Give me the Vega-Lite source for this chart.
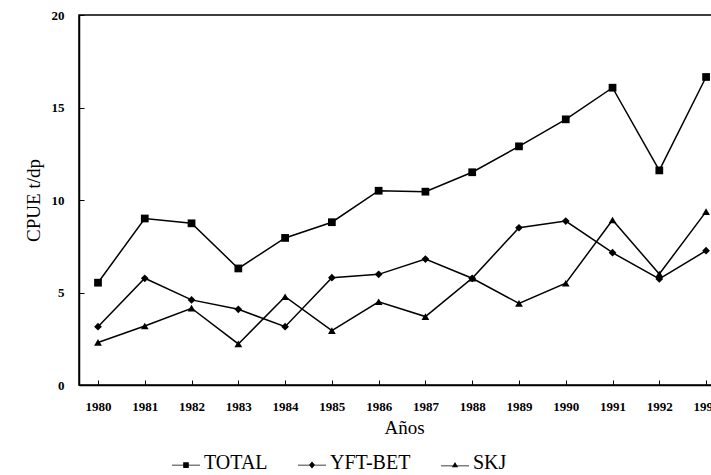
{
  "$schema": "https://vega.github.io/schema/vega-lite/v6.json",
  "width": 650,
  "height": 370,
  "autosize": "none",
  "padding": {"left": 79, "top": 15, "right": 0, "bottom": 90},
  "background": "white",
  "config": {
    "view": {"stroke": "black", "strokeWidth": 1.5},
    "font": "Liberation Serif",
    "axis": {"grid": false, "domainColor": "black", "domainWidth": 1.5, "tickColor": "black", "labelColor": "black", "titleColor": "black", "labelFont": "Liberation Serif", "titleFont": "Liberation Serif"}
  },
  "data": {
    "values": [
      {"year": 1980, "series": "TOTAL", "cpue": 5.53},
      {"year": 1981, "series": "TOTAL", "cpue": 9.0},
      {"year": 1982, "series": "TOTAL", "cpue": 8.74},
      {"year": 1983, "series": "TOTAL", "cpue": 6.3},
      {"year": 1984, "series": "TOTAL", "cpue": 7.95},
      {"year": 1985, "series": "TOTAL", "cpue": 8.8},
      {"year": 1986, "series": "TOTAL", "cpue": 10.5},
      {"year": 1987, "series": "TOTAL", "cpue": 10.45},
      {"year": 1988, "series": "TOTAL", "cpue": 11.5},
      {"year": 1989, "series": "TOTAL", "cpue": 12.9},
      {"year": 1990, "series": "TOTAL", "cpue": 14.36},
      {"year": 1991, "series": "TOTAL", "cpue": 16.07},
      {"year": 1992, "series": "TOTAL", "cpue": 11.6},
      {"year": 1993, "series": "TOTAL", "cpue": 16.65},
      {"year": 1980, "series": "YFT-BET", "cpue": 3.15},
      {"year": 1981, "series": "YFT-BET", "cpue": 5.77},
      {"year": 1982, "series": "YFT-BET", "cpue": 4.6},
      {"year": 1983, "series": "YFT-BET", "cpue": 4.09},
      {"year": 1984, "series": "YFT-BET", "cpue": 3.15},
      {"year": 1985, "series": "YFT-BET", "cpue": 5.8},
      {"year": 1986, "series": "YFT-BET", "cpue": 5.98},
      {"year": 1987, "series": "YFT-BET", "cpue": 6.81},
      {"year": 1988, "series": "YFT-BET", "cpue": 5.77},
      {"year": 1989, "series": "YFT-BET", "cpue": 8.5},
      {"year": 1990, "series": "YFT-BET", "cpue": 8.86},
      {"year": 1991, "series": "YFT-BET", "cpue": 7.15},
      {"year": 1992, "series": "YFT-BET", "cpue": 5.73},
      {"year": 1993, "series": "YFT-BET", "cpue": 7.26},
      {"year": 1980, "series": "SKJ", "cpue": 2.3},
      {"year": 1981, "series": "SKJ", "cpue": 3.19},
      {"year": 1982, "series": "SKJ", "cpue": 4.15},
      {"year": 1983, "series": "SKJ", "cpue": 2.22},
      {"year": 1984, "series": "SKJ", "cpue": 4.77},
      {"year": 1985, "series": "SKJ", "cpue": 2.94},
      {"year": 1986, "series": "SKJ", "cpue": 4.5},
      {"year": 1987, "series": "SKJ", "cpue": 3.7},
      {"year": 1988, "series": "SKJ", "cpue": 5.77},
      {"year": 1989, "series": "SKJ", "cpue": 4.41},
      {"year": 1990, "series": "SKJ", "cpue": 5.5},
      {"year": 1991, "series": "SKJ", "cpue": 8.92},
      {"year": 1992, "series": "SKJ", "cpue": 6.0},
      {"year": 1993, "series": "SKJ", "cpue": 9.37}
    ]
  },
  "encoding": {
    "x": {
      "field": "year", "type": "quantitative",
      "scale": {"domain": [1979.594, 1993.49], "nice": false, "zero": false},
      "axis": {"values": [1980,1981,1982,1983,1984,1985,1986,1987,1988,1989,1990,1991,1992,1993], "format": "d", "title": "Años", "labelFontSize": 13, "labelFontWeight": "bold", "tickSize": -5, "labelPadding": 20, "titleFontSize": 19, "titleFontWeight": "normal", "titlePadding": 5}
    },
    "y": {
      "field": "cpue", "type": "quantitative",
      "scale": {"domain": [0, 20], "nice": false},
      "axis": {"values": [0,5,10,15,20], "title": "CPUE t/dp", "labelFontSize": 13, "labelFontWeight": "bold", "tickSize": -5, "labelPadding": 20, "titleFontSize": 19, "titleFontWeight": "normal", "titlePadding": 8}
    }
  },
  "layer": [
    {
      "mark": {"type": "line", "color": "black", "strokeWidth": 1.5},
      "encoding": {"detail": {"field": "series"}}
    },
    {
      "mark": {"type": "point", "filled": true, "color": "black", "opacity": 1},
      "encoding": {
        "shape": {
          "field": "series", "type": "nominal",
          "scale": {"domain": ["TOTAL", "YFT-BET", "SKJ"], "range": ["square", "diamond", "triangle-up"]},
          "legend": null
        },
        "size": {"value": 60}
      }
    },
    {
      "mark": {"type": "point", "filled": true, "color": "black", "opacity": 0},
      "encoding": {
        "shape": {
          "field": "series", "type": "nominal",
          "scale": {"domain": ["TOTAL", "YFT-BET", "SKJ"], "range": [
            "M-1,0.12H1V0.18H-1ZM-0.2,-0.05H0.2V0.35H-0.2Z",
            "M-1,0.12H1V0.18H-1ZM0,-0.1L0.22,0.15L0,0.4L-0.22,0.15Z",
            "M-1,0.17H1V0.23H-1ZM0,-0.08L0.22,0.3H-0.22Z"
          ]},
          "legend": {
            "title": null, "orient": "none", "direction": "horizontal",
            "legendX": 93, "legendY": 434,
            "labelFontSize": 20, "labelFont": "Liberation Serif", "labelColor": "black",
            "symbolSize": 784, "symbolFillColor": "black", "symbolStrokeColor": "black", "symbolStrokeWidth": 0, "symbolOpacity": 1,
            "columnPadding": 30, "labelOffset": 4
          }
        },
        "size": {"value": 60}
      }
    }
  ],
  "resolve": {"scale": {"shape": "independent"}, "legend": {"shape": "independent"}}
}
